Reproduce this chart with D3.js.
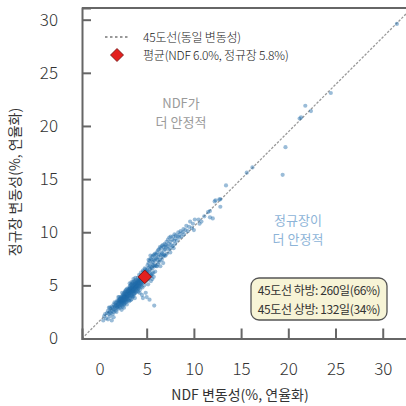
<!DOCTYPE html>
<html>
<head>
<meta charset="utf-8">
<script src="https://cdn.jsdelivr.net/npm/d3@7"></script>
<style>
  body { margin: 0; background: #fff; }
  svg text { font-family: "Noto Sans CJK KR", "Noto Sans", sans-serif; }
</style>
</head>
<body>
<script>
// daily annualised volatility, [NDF, regular session] (%)
const lowDays = [
  [0.4,1.7],[0.5,2.1],[0.6,2.3],[0.7,1.9],[0.8,2.4],[0.9,1.8],[0.9,2.6],[1.0,2.3],[1.0,2.9],[1.1,2.5],
  [1.1,2.1],[1.2,2.8],[1.2,2.4],[1.3,1.7],[1.3,3.0],[1.3,2.6],[1.4,2.9],[1.4,2.3],[1.5,3.2],[1.5,2.7],
  [1.5,2.5],[1.6,3.0],[1.6,2.8],[1.6,3.4],[1.7,3.1],[1.7,2.6],[1.7,3.3],[1.8,2.9],[1.8,3.4],[1.8,3.1],
  [1.8,2.5],[1.9,3.6],[1.9,3.2],[1.9,2.9],[1.9,3.0],[2.0,3.5],[2.0,3.3],[2.0,2.8],[1.5,2.0],[1.1,2.9]
];
const coreDays = [
  [2.05,3.6],[2.05,3.1],[2.1,3.5],[2.1,3.3],[2.1,3.9],[2.15,3.4],[2.15,3.0],[2.2,3.7],[2.2,3.5],[2.2,3.2],
  [2.25,3.8],[2.25,3.4],[2.3,3.6],[2.3,3.9],[2.3,3.1],[2.35,3.7],[2.35,3.5],[2.4,4.0],[2.4,3.6],[2.4,3.3],
  [2.45,3.8],[2.45,3.5],[2.5,4.1],[2.5,3.7],[2.5,3.4],[2.5,3.9],[2.55,3.6],[2.55,4.2],[2.6,3.8],[2.6,3.5],
  [2.6,4.0],[2.6,3.2],[2.65,3.9],[2.65,4.3],[2.7,3.7],[2.7,4.1],[2.7,3.5],[2.7,3.9],[2.75,4.0],[2.75,3.6],
  [2.8,4.2],[2.8,3.8],[2.8,4.4],[2.8,3.4],[2.85,4.0],[2.85,3.7],[2.9,4.3],[2.9,3.9],[2.9,4.1],[2.9,3.5],
  [2.95,4.2],[2.95,3.8],[3.0,4.4],[3.0,4.0],[2.2,2.9],[2.4,4.3],[2.6,2.9],[2.3,3.4],[2.5,3.2],[2.75,4.5],
  [2.85,4.6],[2.0,3.9],[2.45,3.0],[2.65,3.3],[2.9,3.2],[2.35,2.7],[2.55,3.9],[2.7,4.4],[2.15,3.7],[2.95,4.7],
  [3.05,4.2],[3.05,4.6],[3.05,3.9],[3.1,4.5],[3.1,4.3],[3.1,4.0],[3.15,4.7],[3.15,4.4],[3.15,4.1],[3.2,4.6],
  [3.2,4.3],[3.2,3.8],[3.2,4.9],[3.25,4.5],[3.25,4.2],[3.3,4.7],[3.3,4.4],[3.3,4.0],[3.3,5.0],[3.35,4.6],
  [3.35,4.3],[3.4,4.8],[3.4,4.5],[3.4,4.1],[3.4,3.7],[3.45,4.7],[3.45,4.4],[3.5,4.9],[3.5,4.6],[3.5,4.3],
  [3.5,5.2],[3.55,4.8],[3.55,4.5],[3.6,5.0],[3.6,4.7],[3.6,4.4],[3.6,4.0],[3.65,4.9],[3.65,4.6],[3.7,5.1],
  [3.7,4.8],[3.7,4.5],[3.7,5.4],[3.75,5.0],[3.75,4.7],[3.75,3.8],[3.8,5.2],[3.8,4.9],[3.8,4.6],[3.8,4.3],
  [3.85,5.1],[3.85,4.8],[3.9,5.3],[3.9,5.0],[3.9,4.7],[3.9,4.4],[3.95,5.2],[3.95,4.9],[4.0,5.4],[4.0,5.1],
  [4.0,4.8],[3.1,3.6],[3.35,5.1],[3.55,5.3],[3.25,4.8],[3.45,4.0],[3.65,4.2],[3.85,5.5],[3.95,4.5],[3.0,3.7],
  [3.3,3.6],[3.5,3.9],[3.7,4.2],[3.2,5.2],[3.4,5.3],[3.6,5.6],[3.8,5.7],[3.15,3.5],[3.45,5.0],[3.75,5.3],
  [4.05,5.3],[4.05,4.9],[4.1,5.5],[4.1,5.2],[4.1,4.7],[4.15,5.4],[4.15,5.0],[4.2,5.6],[4.2,5.3],[4.2,4.9],
  [4.25,5.5],[4.25,5.1],[4.3,5.7],[4.3,5.4],[4.3,5.0],[4.35,5.6],[4.35,5.2],[4.4,5.8],[4.4,5.5],[4.4,5.1],
  [4.45,5.7],[4.45,5.3],[4.5,5.9],[4.5,5.6],[4.5,5.2],[4.5,4.1],[4.55,5.8],[4.55,5.4],[4.6,6.0],[4.6,5.6],
  [4.6,3.8],[4.65,5.9],[4.65,5.5],[4.7,6.1],[4.7,5.7],[4.7,5.3],[4.75,6.0],[4.75,5.6],[4.8,6.2],[4.8,5.8],
  [4.85,6.1],[4.85,5.4],[4.9,6.3],[4.9,5.9],[4.9,4.3],[4.95,6.2],[4.95,5.7],[5.0,6.4],[5.0,6.0],[5.0,3.9],
  [4.1,4.4],[4.3,4.6],[4.2,6.0],[4.4,6.2],[4.6,6.4],[4.8,6.6],[4.15,4.7],[4.55,4.8],[4.75,5.0],[4.35,5.9],
  [4.65,6.3],[4.05,5.7],[4.45,4.9],[4.85,6.5],[4.25,4.3]
];
const midDays = [
  [5.05,6.5],[5.05,5.5],[5.1,6.9],[5.1,6.0],[5.15,5.6],[5.2,7.1],[5.2,6.3],[5.25,6.7],[5.25,5.7],[5.3,7.3],
  [5.3,6.2],[5.3,3.65],[5.35,6.8],[5.35,5.9],[5.4,7.5],[5.4,6.5],[5.45,6.0],[5.5,7.4],[5.5,6.7],[5.5,5.9],
  [5.55,7.0],[5.6,7.7],[5.6,6.6],[5.6,6.1],[5.65,7.2],[5.7,7.8],[5.7,6.9],[5.7,6.2],[5.75,7.4],[5.8,7.9],
  [5.8,6.8],[5.8,3.1],[5.85,7.3],[5.9,8.0],[5.9,6.9],[5.9,6.3],[5.95,7.5],[6.0,7.9],[6.0,6.8],[5.2,7.4],
  [5.4,7.8],[5.6,5.6],[5.15,5.1],[5.75,5.8],[5.45,5.4],
  [6.05,7.6],[6.1,8.1],[6.1,6.8],[6.15,7.4],[6.2,8.3],[6.2,7.0],[6.25,7.7],[6.3,8.4],[6.3,7.2],[6.35,7.9],
  [6.4,8.6],[6.4,7.4],[6.45,6.8],[6.5,8.5],[6.5,7.8],[6.55,8.1],[6.6,8.7],[6.6,7.4],[6.65,8.0],[6.7,8.8],
  [6.7,7.7],[6.75,7.1],[6.8,8.6],[6.8,7.9],[6.85,8.3],[6.9,8.9],[6.9,7.8],[6.95,8.4],[7.0,8.8],[7.0,7.8],
  [7.05,8.6],[7.1,9.1],[7.15,8.0],[7.2,8.7],[7.25,9.3],[7.3,8.4],[7.35,8.9],[7.4,9.5],[7.45,8.5],[7.5,9.1],
  [7.5,8.1],[7.55,9.6],[7.6,8.8],[7.7,9.3],[7.75,8.7],[7.8,9.6],[7.85,8.5],[7.9,9.2],[7.95,9.8],[8.0,8.9]
];
const highDays = [
  [8.05,9.4],[8.1,9.7],[8.2,9.2],[8.3,9.6],[8.35,10.0],[8.45,9.5],[8.5,9.8],[8.6,10.1],[8.7,9.6],[8.8,10.0],
  [8.9,10.3],[8.95,9.8],[9.1,10.2],[9.2,10.6],[9.35,10.1],[9.5,10.5],[9.6,11.0],[9.8,10.4],[9.9,10.8],[10.0,10.2],
  [10.1,11.2],[10.5,11.2],[10.8,11.0],[10.6,10.8],[11.1,11.5],[11.5,11.9],[11.7,12.0],[11.7,11.4],[12.0,11.3],[12.2,12.9],
  [12.8,13.1],[12.8,12.4],[12.3,13.0],[12.7,13.1],
  [13.4,14.4],[15.6,15.6],[16.2,16.1],[19.4,15.4],[19.7,18.0],[21.2,20.7],[21.35,20.8],[21.8,21.9],[22.4,21.4],
  [24.5,23.1],[31.5,29.6]
];
const meanPoint = [4.8, 5.8];

const xTicks = [0, 5, 10, 15, 20, 25, 30];
const yTicks = [0, 5, 10, 15, 20, 25, 30];
const legendLabels = ['45도선(동일 변동성)', '평균(NDF 6.0%, 정규장 5.8%)'];
const ndfNote = ['NDF가', '더 안정적'];
const regNote = ['정규장이', '더 안정적'];
const boxLines = ['45도선 하방: 260일(66%)', '45도선 상방: 132일(34%)'];

const allDays = lowDays.concat(coreDays, midDays, highDays);

const width = 406;
const height = 406;

const svg = d3.select('body')
    .append('svg')
    .attr('width', width)
    .attr('height', height);

const xScale = d3.scaleLinear()
    .domain([-1.85, 33.1])
    .range([82, 412]);

const yScale = d3.scaleLinear()
    .domain([0, 31.1])
    .range([338.5, 8]);

// 45 degree guide, corner to corner
svg.append('line')
    .attr('x1', xScale(xScale.domain()[0]))
    .attr('y1', yScale(yScale.domain()[0]))
    .attr('x2', xScale(xScale.domain()[1]))
    .attr('y2', yScale(yScale.domain()[1]))
    .attr('stroke', '#9a9a9a')
    .attr('stroke-width', 1.3)
    .attr('stroke-dasharray', '2.5,1.5');

svg.append('g')
    .selectAll('circle')
    .data(allDays)
    .enter()
    .append('circle')
    .attr('cx', d => xScale(d[0]))
    .attr('cy', d => yScale(d[1]))
    .attr('r', 2.1)
    .attr('fill', '#1f6aa8')
    .attr('fill-opacity', 0.45);

const diamond = (cx, cy, r) => `M${cx},${cy - r}L${cx + r},${cy}L${cx},${cy + r}L${cx - r},${cy}Z`;

svg.append('path')
    .attr('d', diamond(xScale(meanPoint[0]), yScale(meanPoint[1]), 6.8))
    .attr('fill', '#e3201e')
    .attr('stroke', '#6b1010')
    .attr('stroke-width', 0.8);

// axes, ticks pointing inwards
const xAxis = d3.axisBottom(xScale)
    .tickValues(xTicks)
    .tickSize(-10)
    .tickPadding(24);

const yAxis = d3.axisLeft(yScale)
    .tickValues(yTicks)
    .tickSize(-9)
    .tickPadding(24);

const gx = svg.append('g')
    .attr('transform', `translate(0, ${yScale(0)})`)
    .call(xAxis);

const gy = svg.append('g')
    .attr('transform', `translate(${xScale.range()[0]}, 0)`)
    .call(yAxis);

gx.selectAll('.tick').filter(d => d === 0).select('line').remove();
gy.selectAll('.tick').filter(d => d === 0).select('line').remove();

[gx, gy].forEach(g => {
    g.select('.domain').attr('stroke', '#666').attr('stroke-width', 2);
    g.selectAll('.tick line').attr('stroke', '#666').attr('stroke-width', 2);
    g.selectAll('.tick text')
        .attr('font-size', 17)
        .attr('font-weight', 300)
        .attr('fill', '#333')
        .style('font-family', '"Noto Sans CJK KR", sans-serif');
});

// top spine
svg.append('line')
    .attr('x1', xScale.range()[0]).attr('x2', width)
    .attr('y1', yScale.range()[1]).attr('y2', yScale.range()[1])
    .attr('stroke', '#666')
    .attr('stroke-width', 2);

svg.append('text')
    .attr('x', 240)
    .attr('y', 400)
    .attr('text-anchor', 'middle')
    .attr('font-size', 14)
    .attr('fill', '#333')
    .text('NDF 변동성(%, 연율화)');

svg.append('text')
    .attr('transform', 'translate(20, 182) rotate(-90)')
    .attr('text-anchor', 'middle')
    .attr('font-size', 14)
    .attr('fill', '#333')
    .text('정규장 변동성(%, 연율화)');

// legend
svg.append('line')
    .attr('x1', 105).attr('x2', 129)
    .attr('y1', 37).attr('y2', 37)
    .attr('stroke', '#777')
    .attr('stroke-width', 1.3)
    .attr('stroke-dasharray', '2.5,2.5');

svg.append('path')
    .attr('d', diamond(117, 55, 6.5))
    .attr('fill', '#e3201e')
    .attr('stroke', '#6b1010')
    .attr('stroke-width', 0.8);

svg.selectAll('.legend-text')
    .data(legendLabels)
    .enter()
    .append('text')
    .attr('class', 'legend-text')
    .attr('x', 143)
    .attr('y', (d, i) => 41.5 + i * 18)
    .attr('font-size', 12)
    .attr('font-weight', 300)
    .attr('letter-spacing', -0.2)
    .attr('fill', '#222')
    .text(d => d);

// region notes
svg.selectAll('.ndf-note')
    .data(ndfNote)
    .enter()
    .append('text')
    .attr('class', 'ndf-note')
    .attr('x', 181)
    .attr('y', (d, i) => 107.5 + i * 19)
    .attr('text-anchor', 'middle')
    .attr('font-size', 13)
    .attr('fill', '#9a9a9a')
    .text(d => d);

svg.selectAll('.reg-note')
    .data(regNote)
    .enter()
    .append('text')
    .attr('class', 'reg-note')
    .attr('x', 298)
    .attr('y', (d, i) => 224.5 + i * 19)
    .attr('text-anchor', 'middle')
    .attr('font-size', 13)
    .attr('fill', '#8db4d8')
    .text(d => d);

// count box
svg.append('rect')
    .attr('x', 251).attr('y', 278)
    .attr('width', 136).attr('height', 42)
    .attr('rx', 8)
    .attr('fill', '#f7f4d6')
    .attr('stroke', '#555')
    .attr('stroke-width', 1.3);

svg.selectAll('.box-text')
    .data(boxLines)
    .enter()
    .append('text')
    .attr('class', 'box-text')
    .attr('x', 319)
    .attr('y', (d, i) => 295 + i * 19)
    .attr('text-anchor', 'middle')
    .attr('font-size', 12)
    .attr('letter-spacing', -0.4)
    .attr('fill', '#333')
    .text(d => d);
</script>
</body>
</html>
